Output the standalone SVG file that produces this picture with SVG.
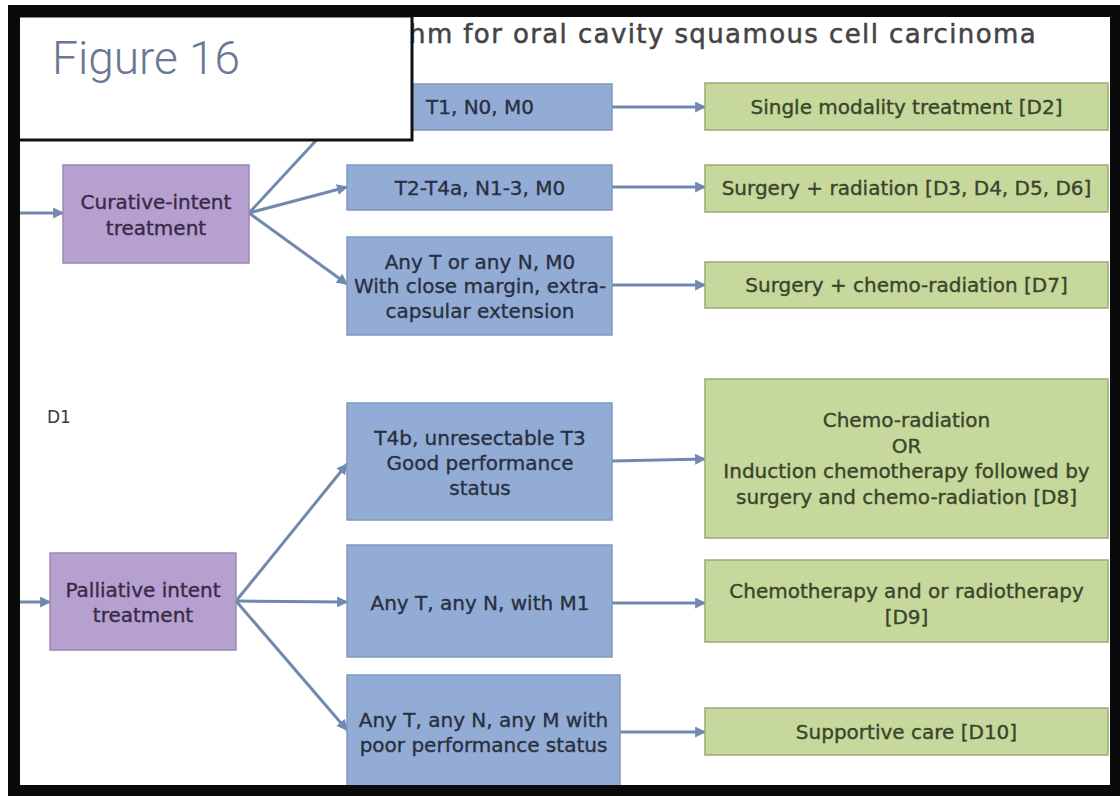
<svg xmlns="http://www.w3.org/2000/svg" width="1120" height="796" viewBox="0 0 1120 796">
<style>
.t{font-family:"DejaVu Sans","Liberation Sans",sans-serif;font-size:20px;text-anchor:middle;stroke-width:0.35px}
.bt{fill:#283040;stroke:#283040}
.gt{fill:#38452a;stroke:#38452a}
.pt{fill:#382a48;stroke:#382a48}
.blue{fill:#93acd6;stroke:#7f99c0;stroke-width:1.5}
.green{fill:#c6d89c;stroke:#9aab78;stroke-width:1.5}
.purple{fill:#b6a0cf;stroke:#9c88b4;stroke-width:1.5}
.c{stroke:#7189ad;stroke-width:3;fill:none;marker-end:url(#ah)}
</style>
<defs>
<marker id="ah" viewBox="0 0 10 10" refX="9" refY="5" markerUnits="userSpaceOnUse" markerWidth="12" markerHeight="11" orient="auto">
<path d="M0,0 L10,5 L0,10 Z" fill="#7189ad"/>
</marker>
</defs>
<rect x="0" y="0" width="1120" height="796" fill="#ffffff"/>
<text x="409" y="43" font-family="DejaVu Sans,Liberation Sans,sans-serif" font-size="26" letter-spacing="1.4" fill="#444444" stroke="#444444" stroke-width="0.5">hm for oral cavity squamous cell carcinoma</text>
<g id="connectors">
<line class="c" x1="20" y1="213" x2="63" y2="213"/>
<line class="c" x1="20" y1="602" x2="50" y2="602"/>
<line class="c" x1="249" y1="213" x2="347" y2="107"/>
<line class="c" x1="249" y1="213" x2="347" y2="187"/>
<line class="c" x1="249" y1="213" x2="347" y2="284"/>
<line class="c" x1="236" y1="601" x2="347" y2="464"/>
<line class="c" x1="236" y1="601" x2="347" y2="602"/>
<line class="c" x1="236" y1="601" x2="347" y2="730"/>
<line class="c" x1="612" y1="107" x2="705" y2="107"/>
<line class="c" x1="612" y1="187" x2="705" y2="187"/>
<line class="c" x1="612" y1="285" x2="705" y2="285"/>
<line class="c" x1="612" y1="461" x2="705" y2="459"/>
<line class="c" x1="612" y1="603" x2="705" y2="603"/>
<line class="c" x1="620" y1="732" x2="705" y2="732"/>
</g>
<g id="curative">
<rect class="purple" x="63" y="165" width="186" height="98"/>
<text class="t pt" x="156" y="209">Curative-intent</text>
<text class="t pt" x="156" y="235">treatment</text>
</g>
<g id="palliative">
<rect class="purple" x="50" y="553" width="186" height="97"/>
<text class="t pt" x="143" y="597">Palliative intent</text>
<text class="t pt" x="143" y="622">treatment</text>
</g>
<g id="d1">
<text x="47" y="423" font-family="DejaVu Sans,Liberation Sans,sans-serif" font-size="17" fill="#3a3a3a">D1</text>
</g>
<g id="b1">
<rect class="blue" x="347" y="84" width="265" height="46"/>
<text class="t bt" x="480" y="114">T1, N0, M0</text>
</g>
<g id="b2">
<rect class="blue" x="347" y="165" width="265" height="45"/>
<text class="t bt" x="480" y="195">T2-T4a, N1-3, M0</text>
</g>
<g id="b3">
<rect class="blue" x="347" y="237" width="265" height="98"/>
<text class="t bt" x="480" y="269">Any T or any N, M0</text>
<text class="t bt" x="480" y="293">With close margin, extra-</text>
<text class="t bt" x="480" y="318">capsular extension</text>
</g>
<g id="b4">
<rect class="blue" x="347" y="403" width="265" height="117"/>
<text class="t bt" x="480" y="445">T4b, unresectable T3</text>
<text class="t bt" x="480" y="470">Good performance</text>
<text class="t bt" x="480" y="495">status</text>
</g>
<g id="b5">
<rect class="blue" x="347" y="545" width="265" height="112"/>
<text class="t bt" x="480" y="610">Any T, any N, with M1</text>
</g>
<g id="b6">
<rect class="blue" x="347" y="675" width="273" height="115"/>
<text class="t bt" x="483.5" y="727">Any T, any N, any M with</text>
<text class="t bt" x="483.5" y="752">poor performance status</text>
</g>
<g id="g1">
<rect class="green" x="705" y="83" width="403" height="47"/>
<text class="t gt" x="906.5" y="114">Single modality treatment [D2]</text>
</g>
<g id="g2">
<rect class="green" x="705" y="165" width="403" height="47"/>
<text class="t gt" x="906.5" y="195">Surgery + radiation [D3, D4, D5, D6]</text>
</g>
<g id="g3">
<rect class="green" x="705" y="262" width="403" height="46"/>
<text class="t gt" x="906.5" y="292">Surgery + chemo-radiation [D7]</text>
</g>
<g id="g4">
<rect class="green" x="705" y="379" width="403" height="159"/>
<text class="t gt" x="906.5" y="427">Chemo-radiation</text>
<text class="t gt" x="906.5" y="453">OR</text>
<text class="t gt" x="906.5" y="478">Induction chemotherapy followed by</text>
<text class="t gt" x="906.5" y="504">surgery and chemo-radiation [D8]</text>
</g>
<g id="g5">
<rect class="green" x="705" y="560" width="403" height="82"/>
<text class="t gt" x="906.5" y="598">Chemotherapy and or radiotherapy</text>
<text class="t gt" x="906.5" y="624">[D9]</text>
</g>
<g id="g6">
<rect class="green" x="705" y="708" width="403" height="47"/>
<text class="t gt" x="906.5" y="739">Supportive care [D10]</text>
</g>
<g id="figure-label">
<rect x="18" y="16" width="394" height="124" fill="#ffffff" stroke="#111111" stroke-width="3"/>
<text x="52" y="74" font-family="Roboto,Liberation Sans,sans-serif" font-weight="300" font-size="46" fill="#6a7795">Figure 16</text>
</g>
<g id="frame" fill="#0a0a0a">
<rect x="8" y="5" width="1112" height="12"/>
<rect x="8" y="5" width="12" height="791"/>
<rect x="1110" y="5" width="10" height="791"/>
<rect x="8" y="785" width="1112" height="11"/>
</g>
</svg>
